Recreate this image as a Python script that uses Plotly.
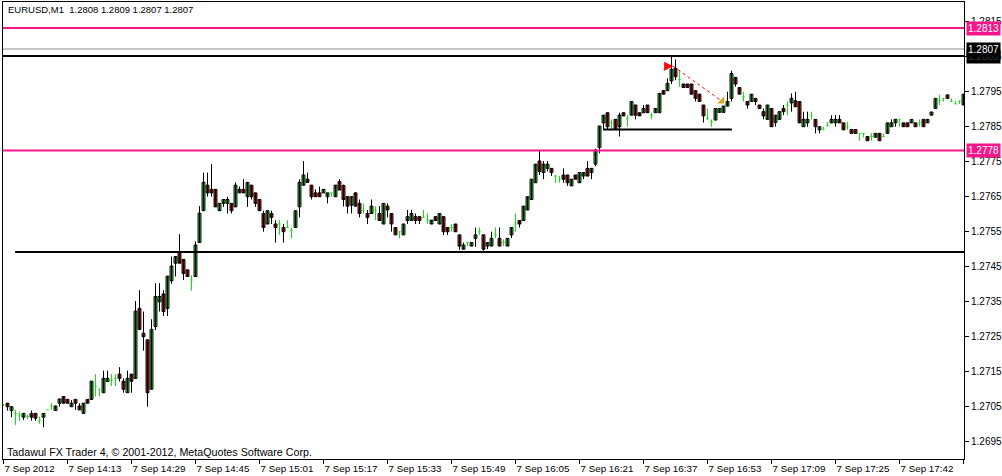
import plotly.graph_objects as go

BASE = 1.2700
PIP = 0.0001

# OHLC per 1-minute bar, in pips above 1.2700
open_pips = [
    5.3, 5.8, 3.7, 2.9, 2.4, 1.8, 2.0, 2.9, 2.9, 1.0,
    1.8, 3.9, 5.0, 3.7, 5.8, 7.7, 6.9, 4.8, 6.9, 5.0,
    2.9, 6.9, 6.9, 10.7, 9.8, 8.8, 12.0, 12.4, 12.9, 14.1,
    12.1, 8.8, 14.1, 12.9, 32.9, 25.8, 23.9, 9.8, 27.7, 34.8,
    37.0, 32.9, 40.8, 45.8, 49.1, 46.9, 43.9, 41.0, 42.0, 51.7,
    60.8, 68.1, 66.9, 66.9, 60.8, 62.9, 62.9, 62.9, 61.9, 66.9,
    66.9, 64.8, 68.1, 65.9, 64.0, 60.0, 57.0, 60.0, 57.0, 57.0,
    56.0, 56.0, 55.1, 56.0, 61.9, 68.1, 69.8, 68.1, 65.9, 65.9,
    65.9, 64.8, 65.9, 64.8, 69.1, 68.0, 64.8, 62.4, 65.9, 62.9,
    61.0, 60.0, 60.0, 61.0, 60.0, 57.0, 62.1, 60.0, 56.0, 54.8,
    53.9, 58.0, 58.0, 59.1, 59.1, 58.9, 58.1, 57.0, 59.1, 57.0,
    59.1, 56.0, 56.0, 57.0, 53.9, 49.8, 51.7, 50.7, 52.9, 54.8,
    53.9, 50.7, 50.7, 53.9, 52.9, 51.7, 50.7, 53.9, 57.0, 58.0,
    58.0, 61.0, 64.0, 68.8, 75.0, 71.7, 72.9, 72.9, 70.7, 69.8,
    71.0, 71.0, 67.9, 71.0, 68.8, 70.7, 72.9, 71.7, 74.1, 78.9,
    85.9, 88.8, 85.9, 86.9, 84.8, 88.8, 87.2, 88.1, 91.0, 88.8,
    88.8, 91.0, 88.1, 88.8, 88.8, 95.1, 95.1, 97.9, 101.5, 98.3,
    97.0, 97.0, 97.0, 95.1, 94.1, 91.0, 87.2, 86.2, 86.7, 88.9,
    88.9, 90.7, 92.9, 98.9, 96.0, 93.4, 92.0, 92.0, 92.9, 91.0,
    89.1, 86.9, 90.0, 86.0, 86.9, 90.0, 91.0, 91.6, 92.2, 92.0,
    84.8, 85.9, 88.1, 86.9, 83.9, 83.9, 85.2, 85.9, 85.9, 86.9,
    85.9, 84.8, 84.0, 84.0, 82.9, 82.9, 82.0, 82.0, 81.8, 82.9,
    82.0, 82.9, 84.8, 85.9, 86.9, 85.9, 85.9, 85.9, 85.9, 85.9,
    86.9, 85.9, 88.1, 90.0, 92.4, 92.9, 93.9, 92.0, 91.3, 92.2,
    91.0,
]
high_pips = [
    5.6, 5.9, 4.8, 3.9, 3.4, 3.0, 2.6, 3.7, 3.0, 2.0,
    3.0, 3.9, 5.8, 5.1, 7.1, 7.7, 6.9, 6.7, 6.9, 5.8,
    5.8, 6.9, 12.1, 14.1, 9.8, 15.1, 15.1, 14.1, 14.1, 16.1,
    12.9, 15.1, 14.1, 35.0, 38.1, 32.0, 24.0, 29.8, 40.1, 40.1,
    38.1, 42.1, 47.7, 47.7, 54.1, 46.9, 43.9, 42.4, 52.0, 62.1,
    71.7, 71.7, 74.1, 66.9, 62.9, 64.0, 64.8, 62.9, 68.9, 67.7,
    69.8, 68.9, 68.1, 65.9, 64.0, 60.8, 60.8, 60.8, 58.1, 58.1,
    57.0, 58.1, 56.0, 60.8, 69.8, 75.0, 71.7, 68.1, 66.9, 67.7,
    66.9, 65.9, 65.9, 68.1, 69.8, 68.3, 64.9, 64.8, 66.0, 64.0,
    62.9, 61.0, 64.0, 62.1, 62.1, 63.0, 62.9, 60.0, 56.0, 54.8,
    57.0, 61.0, 61.0, 60.0, 59.1, 61.0, 60.0, 58.1, 59.1, 60.0,
    59.1, 56.0, 57.0, 57.0, 53.9, 51.7, 51.7, 51.7, 56.0, 56.0,
    53.9, 51.7, 54.8, 56.0, 56.0, 52.6, 52.9, 56.0, 60.0, 58.0,
    62.1, 64.8, 69.8, 74.1, 78.1, 75.0, 75.0, 72.9, 71.0, 70.7,
    72.9, 71.0, 69.8, 71.0, 71.7, 71.7, 75.0, 72.9, 78.5, 85.0,
    88.1, 88.8, 86.9, 86.9, 88.8, 88.8, 88.1, 92.0, 91.0, 88.8,
    91.0, 91.0, 88.8, 90.0, 94.3, 95.1, 98.6, 105.0, 104.0, 101.0,
    97.0, 97.0, 97.0, 95.1, 94.1, 91.0, 90.0, 86.9, 90.0, 90.0,
    90.7, 94.8, 100.8, 98.9, 96.0, 94.8, 92.0, 94.1, 92.9, 91.0,
    90.0, 91.0, 90.0, 88.1, 89.1, 91.0, 92.0, 94.3, 94.8, 92.0,
    89.1, 89.1, 89.1, 86.9, 84.8, 84.8, 86.2, 88.1, 88.1, 88.1,
    85.9, 86.2, 84.0, 84.0, 82.9, 82.9, 82.0, 82.9, 82.9, 82.9,
    82.9, 85.9, 86.9, 86.9, 86.9, 85.9, 85.9, 86.9, 85.9, 86.9,
    86.9, 86.9, 89.0, 92.9, 93.9, 92.9, 93.9, 92.9, 92.2, 92.2,
    94.1,
]
low_pips = [
    5.0, 3.7, 1.8, -0.4, 0.8, 1.0, 1.2, 0.8, 0.8, -0.1,
    -1.1, 3.9, 3.9, 3.6, 4.8, 5.8, 5.8, 4.8, 3.9, 3.9,
    2.9, 5.8, 6.7, 7.7, 7.7, 8.8, 12.0, 10.7, 10.7, 12.0,
    8.8, 8.8, 8.8, 12.9, 26.9, 20.8, 4.8, 9.8, 26.7, 32.0,
    30.7, 30.7, 39.9, 42.0, 45.8, 41.0, 42.0, 37.9, 42.0, 51.7,
    60.8, 64.8, 64.8, 61.9, 60.8, 61.9, 60.0, 60.0, 61.9, 65.9,
    65.9, 61.9, 64.0, 61.9, 60.8, 54.8, 57.0, 57.0, 51.7, 53.9,
    51.7, 56.0, 52.9, 56.0, 58.9, 68.1, 68.9, 64.0, 64.8, 64.8,
    65.9, 62.9, 64.8, 64.8, 66.7, 62.0, 60.0, 60.0, 62.0, 58.9,
    60.0, 57.0, 60.0, 58.1, 58.0, 57.0, 58.9, 54.8, 53.9, 52.9,
    53.9, 57.0, 58.0, 57.0, 57.0, 58.9, 57.0, 57.0, 58.0, 57.0,
    53.9, 53.9, 54.8, 54.8, 49.6, 49.8, 50.7, 50.7, 50.5, 53.9,
    49.4, 49.8, 50.7, 52.9, 50.7, 50.7, 50.7, 53.0, 54.8, 56.0,
    58.0, 61.0, 64.0, 68.8, 71.0, 69.8, 72.0, 70.7, 68.8, 68.8,
    68.8, 67.9, 67.9, 69.8, 68.8, 69.8, 70.7, 69.8, 73.5, 77.2,
    84.0, 84.0, 84.0, 84.0, 82.0, 87.9, 84.8, 88.1, 86.9, 87.9,
    88.8, 88.8, 86.9, 88.8, 88.8, 94.1, 95.1, 97.0, 98.1, 96.2,
    96.0, 96.0, 94.1, 92.0, 92.0, 86.0, 86.7, 84.8, 86.7, 88.9,
    88.9, 90.7, 92.0, 96.2, 94.1, 92.0, 90.0, 92.0, 91.0, 90.0,
    86.9, 86.9, 84.8, 84.8, 86.9, 88.1, 88.1, 89.1, 90.5, 85.9,
    84.8, 84.8, 86.9, 82.9, 82.9, 83.9, 84.8, 85.9, 84.8, 85.9,
    83.9, 83.9, 82.9, 82.9, 80.8, 81.8, 80.8, 80.8, 81.8, 80.8,
    82.0, 82.9, 84.8, 84.8, 84.8, 84.8, 84.8, 85.9, 84.8, 84.8,
    84.8, 85.9, 88.1, 90.0, 91.0, 92.0, 92.9, 92.0, 91.3, 91.3,
    91.0,
]
close_pips = [
    5.3, 4.8, 4.8, 2.9, 2.4, 2.9, 2.0, 1.8, 1.5, 1.0,
    2.9, 3.9, 5.0, 5.0, 7.0, 5.8, 5.8, 5.8, 5.8, 3.9,
    5.8, 5.8, 12.1, 10.7, 9.8, 12.9, 12.9, 12.4, 12.9, 12.9,
    9.8, 12.9, 12.1, 32.1, 26.9, 24.8, 8.8, 26.9, 36.3, 36.3,
    32.0, 42.1, 45.0, 47.7, 45.8, 42.9, 42.0, 41.0, 51.0, 60.1,
    68.9, 65.9, 65.9, 61.9, 62.9, 64.0, 64.0, 60.8, 68.1, 65.9,
    65.9, 68.9, 64.8, 62.9, 60.8, 56.0, 60.8, 58.9, 56.0, 57.0,
    54.8, 56.0, 55.1, 60.8, 68.9, 71.0, 68.9, 64.8, 64.8, 64.8,
    66.9, 65.9, 65.9, 68.1, 66.7, 64.0, 62.1, 64.8, 62.1, 60.0,
    61.0, 58.9, 62.1, 61.0, 58.0, 62.9, 61.0, 57.0, 53.9, 54.8,
    57.0, 59.1, 60.0, 58.0, 58.0, 58.9, 58.1, 58.1, 58.0, 60.0,
    54.8, 54.8, 56.0, 54.8, 50.7, 51.0, 51.7, 51.7, 53.9, 54.8,
    49.8, 51.7, 52.9, 53.9, 50.7, 51.7, 52.9, 56.0, 57.0, 57.0,
    62.1, 64.8, 69.8, 74.1, 72.0, 74.1, 74.1, 71.7, 70.7, 69.8,
    69.8, 68.8, 69.8, 69.8, 71.7, 71.7, 70.7, 72.9, 78.1, 85.0,
    88.1, 84.8, 85.9, 84.0, 88.1, 87.9, 87.2, 92.0, 88.1, 87.9,
    90.0, 88.8, 88.1, 90.0, 94.3, 94.1, 97.2, 101.2, 99.1, 98.3,
    96.0, 96.0, 94.1, 92.9, 92.0, 87.9, 87.2, 86.2, 90.0, 90.0,
    90.7, 92.0, 100.0, 97.0, 94.1, 93.4, 91.0, 94.1, 92.0, 90.0,
    87.9, 91.0, 84.8, 88.1, 89.1, 89.1, 91.0, 92.9, 90.5, 85.9,
    86.9, 86.9, 88.1, 84.8, 84.8, 83.9, 85.2, 86.9, 86.9, 85.9,
    83.9, 84.8, 82.9, 82.9, 82.9, 82.9, 80.8, 82.0, 82.9, 80.8,
    82.0, 85.9, 85.9, 86.9, 86.9, 84.8, 84.8, 86.9, 84.8, 85.9,
    84.8, 86.9, 89.0, 92.9, 92.4, 92.9, 92.9, 92.0, 91.3, 92.2,
    94.1,
]

tick_bars = [0, 16, 32, 48, 64, 80, 96, 112, 128, 144, 160, 176, 192, 208, 224, 240]
tick_labels = ["7 Sep 2012", "7 Sep 14:13", "7 Sep 14:29", "7 Sep 14:45", "7 Sep 15:01",
               "7 Sep 15:17", "7 Sep 15:33", "7 Sep 15:49", "7 Sep 16:05", "7 Sep 16:21",
               "7 Sep 16:37", "7 Sep 16:53", "7 Sep 17:09", "7 Sep 17:25", "7 Sep 17:42",
               "7 Sep 17:58"]

pink_levels = [1.2813, 1.2778]
top_level = 1.2805
bid_level = 1.2807
support_level = 1.2749
support_start_bar = 2.9
short_level = 1.2784
short_bars = [149.9, 182.1]
trade_open = [167.4, 1.28021]
trade_close = [179.6, 1.27921]
header_text = "EURUSD,M1  1.2808 1.2809 1.2807 1.2807"
footer_text = "Tadawul FX Trader 4, \u00a9 2001-2012, MetaQuotes Software Corp."

FONT = "Liberation Sans, Arial, sans-serif"
GREEN = "#2ee02e"
RED = "#e41414"
LIME = "#00f000"
PINK = "#f7168a"

n = len(close_pips)
to_price = lambda v: round(BASE + v * PIP, 6)
o = [to_price(v) for v in open_pips]
h = [to_price(v) for v in high_pips]
l = [to_price(v) for v in low_pips]
c = [to_price(v) for v in close_pips]
idx = list(range(n))

body_i = [i for i in idx if open_pips[i] != close_pips[i]]
doji_i = [i for i in idx if open_pips[i] == close_pips[i]]

fig = go.Figure()

# wicks of candles with a body
wx, wy = [], []
for i in body_i:
    wx += [i, i, None]
    wy += [l[i], h[i], None]
fig.add_trace(go.Scatter(x=wx, y=wy, mode="lines", line=dict(color="black", width=1),
                         hoverinfo="skip", showlegend=False))

# bodies
fig.add_trace(go.Bar(
    x=body_i,
    base=[min(o[i], c[i]) for i in body_i],
    y=[round(abs(c[i] - o[i]), 6) for i in body_i],
    width=0.72,
    marker=dict(color=[GREEN if c[i] > o[i] else RED for i in body_i],
                line=dict(color="black", width=1)),
    hoverinfo="skip", showlegend=False))

# doji bars (open == close) drawn as lime crosses
dx, dy = [], []
for i in doji_i:
    dx += [i, i, None, i - 0.3, i + 0.3, None]
    dy += [l[i], h[i], None, o[i], o[i], None]
fig.add_trace(go.Scatter(x=dx, y=dy, mode="lines", line=dict(color=LIME, width=1),
                         hoverinfo="skip", showlegend=False))

# trade arrows
fig.add_trace(go.Scatter(
    x=[trade_open[0], trade_close[0]], y=[trade_open[1], trade_close[1]],
    mode="lines", line=dict(color="#ff0000", width=1, dash="dot"),
    hoverinfo="skip", showlegend=False))
fig.add_trace(go.Scatter(
    x=[trade_open[0]], y=[trade_open[1]], mode="markers",
    marker=dict(symbol="arrow-right", size=9, color="#ff0000", line=dict(width=0)),
    hoverinfo="skip", showlegend=False))
fig.add_trace(go.Scatter(
    x=[trade_close[0]], y=[trade_close[1]], mode="markers",
    marker=dict(symbol="triangle-se", size=8, color="#daa520", line=dict(width=0)),
    hoverinfo="skip", showlegend=False))

shapes = []
for lv in pink_levels:
    shapes.append(dict(type="line", xref="paper", yref="y", x0=0, x1=1, y0=lv, y1=lv,
                       line=dict(color=PINK, width=2), layer="above"))
shapes.append(dict(type="line", xref="paper", yref="y", x0=0, x1=1, y0=bid_level, y1=bid_level,
                   line=dict(color="#8a9096", width=1), layer="above"))
shapes.append(dict(type="line", xref="paper", yref="y", x0=0, x1=1, y0=top_level, y1=top_level,
                   line=dict(color="black", width=2), layer="above"))
shapes.append(dict(type="line", xref="x", yref="y", x0=support_start_bar, x1=260,
                   y0=support_level, y1=support_level, line=dict(color="black", width=2), layer="above"))
shapes.append(dict(type="line", xref="x", yref="y", x0=short_bars[0], x1=short_bars[1],
                   y0=short_level, y1=short_level, line=dict(color="black", width=2), layer="above"))

annotations = [
    dict(text=header_text, xref="paper", yref="paper", x=0.0031, y=0.9825,
         xanchor="left", yanchor="middle", showarrow=False,
         font=dict(family=FONT, size=9.5, color="black")),
    dict(text=footer_text, xref="paper", yref="paper", x=0.002, y=0.0164,
         xanchor="left", yanchor="middle", showarrow=False,
         font=dict(family=FONT, size=10.7, color="black")),
]
price_boxes = [
    (pink_levels[0], PINK, "white"),
    (pink_levels[1], PINK, "white"),
    (top_level, "black", "#2e3a2e"),
    (bid_level, "black", "white"),
]
for lv, bg, fg in price_boxes:
    annotations.append(dict(text="%.4f" % lv, xref="paper", yref="y", x=1, y=lv,
                            xanchor="left", yanchor="middle", xshift=2, showarrow=False,
                            bgcolor=bg, borderpad=1, font=dict(family=FONT, size=10, color=fg)))

fig.update_layout(
    width=1002, height=476, template="none",
    paper_bgcolor="white", plot_bgcolor="white",
    margin=dict(l=3, r=38, t=2, b=17),
    barmode="overlay", showlegend=False, hovermode=False,
    shapes=shapes, annotations=annotations,
    xaxis=dict(range=[-0.125, 240.125],
               tickvals=tick_bars, ticktext=tick_labels, ticks="outside", ticklen=4,
               tickcolor="black", ticklabelposition="outside right",
               showline=True, mirror=True, linecolor="black", linewidth=1,
               showgrid=False, zeroline=False, automargin=False,
               tickfont=dict(family=FONT, size=9.8, color="black")),
    yaxis=dict(range=[1.268986, 1.282043], side="right", tick0=1.2695, dtick=0.001,
               tickformat=".4f", ticks="outside", ticklen=4, tickcolor="black",
               showline=True, mirror=True, linecolor="black", linewidth=1,
               showgrid=False, zeroline=False, automargin=False,
               tickfont=dict(family=FONT, size=10, color="black")),
)

fig.write_html("out.html", config={"displayModeBar": False},
               post_script="document.body.style.margin='0px';document.body.style.overflow='hidden';")
